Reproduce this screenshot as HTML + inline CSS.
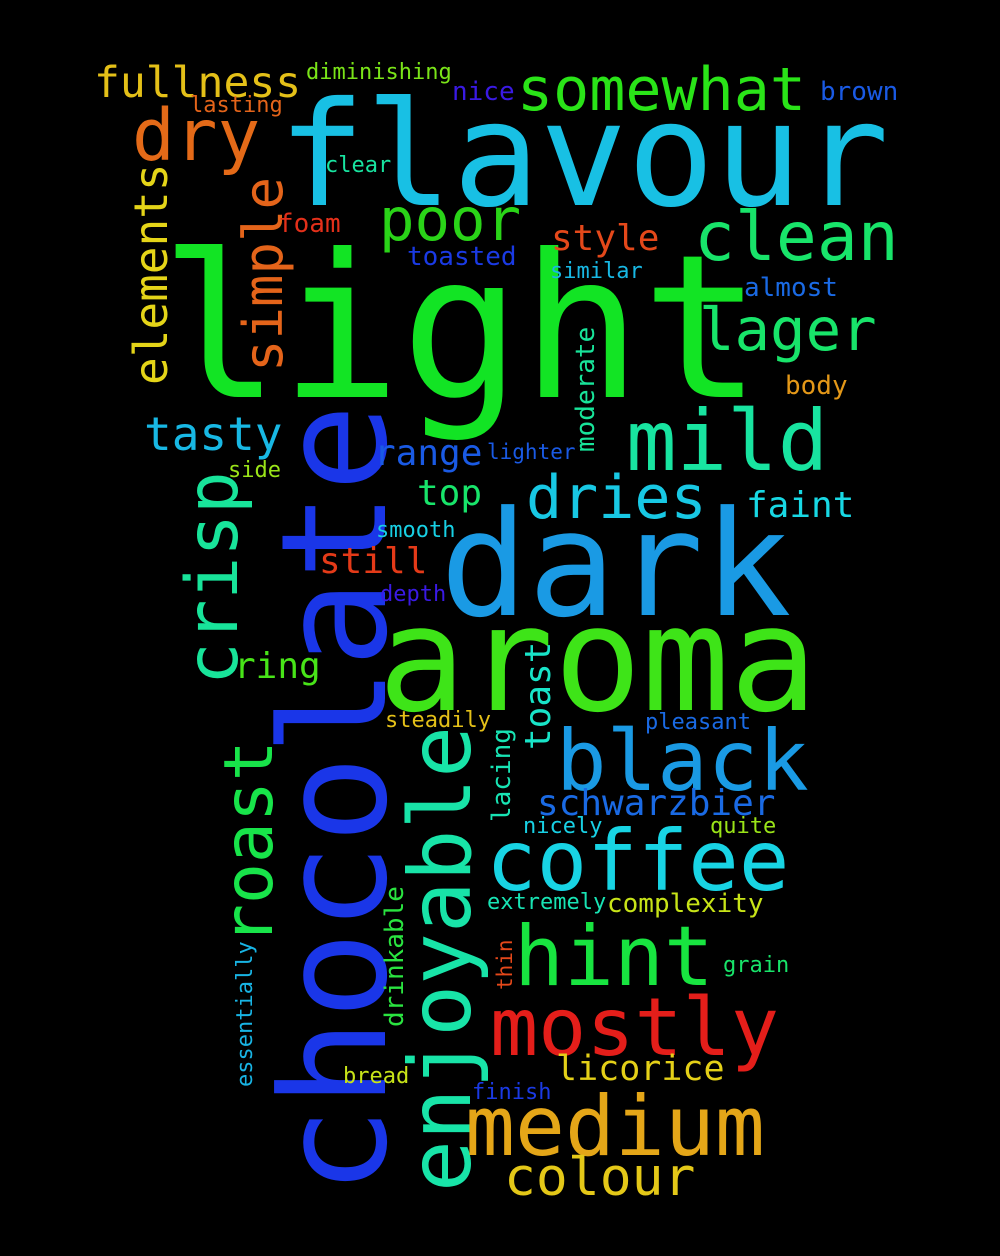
<!DOCTYPE html>
<html><head><meta charset="utf-8"><style>
html,body{margin:0;padding:0;background:#000;}
svg{display:block;}
text{font-family:"DejaVu Sans Mono","Liberation Mono",monospace;}
</style></head><body>
<svg width="1000" height="1256" viewBox="0 0 1000 1256">
<rect width="1000" height="1256" fill="#000"/>
<text x="160" y="397" font-size="200" fill="#12e424">light</text>
<text x="278" y="205" font-size="145" fill="#18c0e4">flavour</text>
<text x="440" y="615" font-size="146" fill="#1a9ae4">dark</text>
<text x="378" y="710" font-size="146" fill="#3ee418">aroma</text>
<text transform="translate(385,1195) rotate(-90)" font-size="146" fill="#1a36e8">chocolate</text>
<text transform="translate(470,1192) rotate(-90)" font-size="86" fill="#18e4a8">enjoyable</text>
<text x="465" y="1155" font-size="83" fill="#e4a618">medium</text>
<text x="486" y="890" font-size="84" fill="#18d4e4">coffee</text>
<text x="556" y="790" font-size="84" fill="#1a9ae4">black</text>
<text x="490" y="1055" font-size="80" fill="#e41e1a">mostly</text>
<text x="514" y="985" font-size="83" fill="#18e440">hint</text>
<text x="626" y="470" font-size="84" fill="#18e4a0">mild</text>
<text x="694" y="260" font-size="68" fill="#18e46a">clean</text>
<text x="517" y="110" font-size="60" fill="#2ae418">somewhat</text>
<text x="699" y="350" font-size="59" fill="#18e46a">lager</text>
<text x="526" y="518" font-size="60" fill="#18c8e4">dries</text>
<text x="379" y="240" font-size="59" fill="#2ad418">poor</text>
<text x="132" y="160" font-size="71" fill="#e46a18">dry</text>
<text x="504" y="1195" font-size="53" fill="#e4c818">colour</text>
<text transform="translate(237,685) rotate(-90)" font-size="71" fill="#18e49a">crisp</text>
<text transform="translate(272,945) rotate(-90)" font-size="68" fill="#18e44a">roast</text>
<text transform="translate(282,372) rotate(-90)" font-size="54" fill="#e4641a">simple</text>
<text transform="translate(167,385) rotate(-90)" font-size="46" fill="#e4d418">elements</text>
<text x="144" y="450" font-size="46" fill="#18b8e4">tasty</text>
<text x="94" y="97" font-size="43" fill="#e4c018">fullness</text>
<text x="537" y="815" font-size="36" fill="#1a6ae4">schwarzbier</text>
<text x="556" y="1080" font-size="35" fill="#e4d018">licorice</text>
<text x="374" y="465" font-size="36" fill="#1a5ae4">range</text>
<text x="319" y="573" font-size="36" fill="#e43a18">still</text>
<text x="234" y="678" font-size="36" fill="#48e418">ring</text>
<text x="417" y="505" font-size="36" fill="#18e46a">top</text>
<text x="746" y="517" font-size="36" fill="#18d8e4">faint</text>
<text x="551" y="250" font-size="36" fill="#e4481a">style</text>
<text transform="translate(550,750) rotate(-90)" font-size="36" fill="#18e4c8">toast</text>
<text x="607" y="912" font-size="26" fill="#c8e418">complexity</text>
<text transform="translate(594,452) rotate(-90)" font-size="26" fill="#18e49a">moderate</text>
<text transform="translate(510,822) rotate(-90)" font-size="26" fill="#18e4b4">lacing</text>
<text transform="translate(403,1027) rotate(-90)" font-size="26" fill="#2ae440">drinkable</text>
<text transform="translate(252,1087) rotate(-90)" font-size="22" fill="#18b4e4">essentially</text>
<text transform="translate(512,990) rotate(-90)" font-size="21" fill="#e4481a">thin</text>
<text x="820" y="100" font-size="26" fill="#1a5ae4">brown</text>
<text x="452" y="100" font-size="26" fill="#3a1ae4">nice</text>
<text x="306" y="79" font-size="22" fill="#7ae418">diminishing</text>
<text x="190" y="112" font-size="22" fill="#e4641a">lasting</text>
<text x="325" y="172" font-size="22" fill="#18e4a0">clear</text>
<text x="278" y="232" font-size="26" fill="#e4301a">foam</text>
<text x="407" y="265" font-size="26" fill="#1a3ae4">toasted</text>
<text x="550" y="278" font-size="22" fill="#18b8e4">similar</text>
<text x="744" y="296" font-size="26" fill="#1a6ae4">almost</text>
<text x="785" y="394" font-size="26" fill="#e49818">body</text>
<text x="487" y="459" font-size="21" fill="#1a5ae4">lighter</text>
<text x="228" y="477" font-size="22" fill="#9ae418">side</text>
<text x="376" y="537" font-size="22" fill="#18d0e4">smooth</text>
<text x="380" y="601" font-size="22" fill="#3a1ae4">depth</text>
<text x="385" y="727" font-size="22" fill="#e4c018">steadily</text>
<text x="645" y="729" font-size="22" fill="#1a6ae4">pleasant</text>
<text x="523" y="833" font-size="22" fill="#18d0e4">nicely</text>
<text x="710" y="833" font-size="22" fill="#9ae418">quite</text>
<text x="487" y="909" font-size="22" fill="#18e4b4">extremely</text>
<text x="723" y="972" font-size="22" fill="#18e46a">grain</text>
<text x="343" y="1083" font-size="22" fill="#c8e418">bread</text>
<text x="472" y="1099" font-size="22" fill="#1a3ae4">finish</text>
</svg>
</body></html>
